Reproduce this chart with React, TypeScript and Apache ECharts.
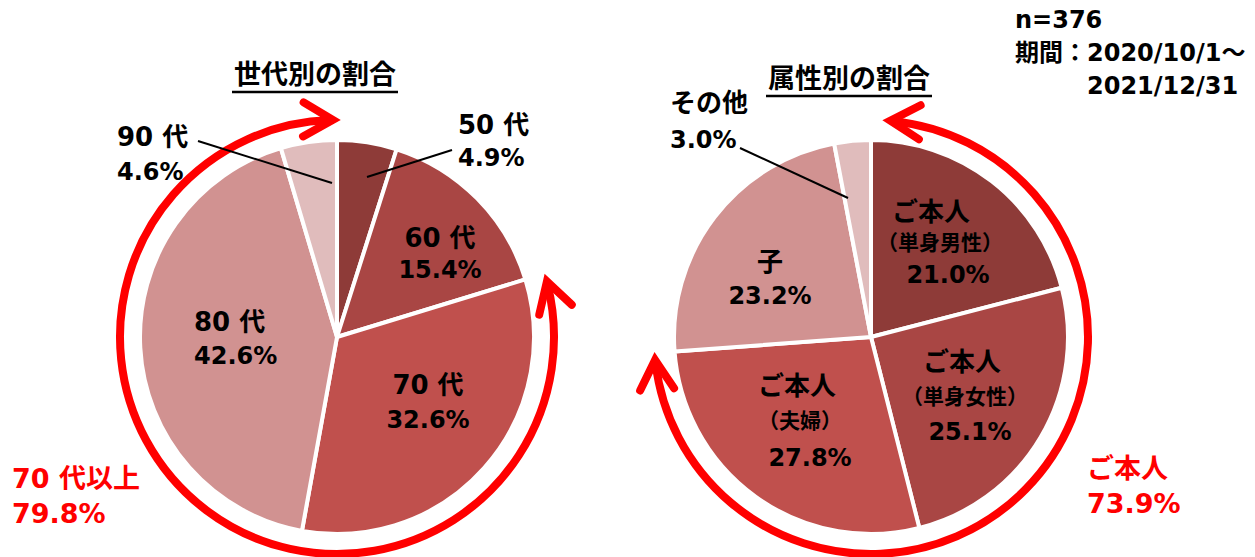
import React, { useEffect, useRef } from 'react';
import * as echarts from 'echarts';

// ---------- data ----------
const ageCategories = ['50 代', '60 代', '70 代', '80 代', '90 代'];
const ageValues = [4.9, 15.4, 32.6, 42.6, 4.6];
const attrNames = ['ご本人', 'ご本人', 'ご本人', '子', 'その他'];
const attrSubNames = ['（単身男性）', '（単身女性）', '（夫婦）', '', ''];
const attrValues = [21.0, 25.1, 27.8, 23.2, 3.0];
const titles = ['世代別の割合', '属性別の割合'];
const ageGroupLabel = '70 代以上';
const ageGroupIdx = [2, 3, 4];
const selfLabel = 'ご本人';
const selfIdx = [0, 1, 2];
const headerLines = ['n=376', '期間：2020/10/1～', '2021/12/31'];

// ---------- styles / layout ----------
const sliceColors = ['#8E3B38', '#A94644', '#C0504D', '#D19291', '#E0BCBC'];
const RED = '#FF0000';
const FONT = '"DejaVu Sans", "Noto Sans CJK JP", sans-serif';
const CY = 337;
const LCX = 337;
const RCX = 871;
const PIE_R = 197;
const ARC_R = 217;

const ageLabelLayout = [
  { x: 458, align: 'left', ys: [125, 158] },
  { x: 440, align: 'center', ys: [238, 270] },
  { x: 428, align: 'center', ys: [385, 420] },
  { x: 194, align: 'left', ys: [322, 356] },
  { x: 117, align: 'left', ys: [137, 172] },
];
const attrLabelLayout = [
  { xs: [931, 940, 948], ys: [212, 243, 275], align: 'center' },
  { xs: [962, 965, 970], ys: [362, 397, 432], align: 'center' },
  { xs: [797, 800, 810], ys: [386, 421, 458], align: 'center' },
  { xs: [770, 770], ys: [262, 296], align: 'center' },
  { xs: [670, 670], ys: [103, 140], align: 'left' },
];

const fmt = (v: number) => v.toFixed(1) + '%';

function txt(text: string, x: number, y: number, size = 24, align = 'center', color = '#000') {
  return {
    type: 'text',
    x,
    y,
    z: 100,
    silent: true,
    style: {
      text,
      fill: color,
      font: `bold ${size}px ${FONT}`,
      align,
      verticalAlign: 'middle',
      textAlign: align,
      textVerticalAlign: 'middle',
    },
  };
}

function line(x1: number, y1: number, x2: number, y2: number, w = 2, color = '#000') {
  return { type: 'line', z: 100, silent: true, shape: { x1, y1, x2, y2 }, style: { stroke: color, lineWidth: w } };
}

function arcArrow(cx: number, cy: number, r: number, thS: number, thE: number) {
  const rad = (d: number) => (d * Math.PI) / 180;
  const pt = (th: number) => [cx + r * Math.sin(rad(th)), cy - r * Math.cos(rad(th))];
  const cwT = (th: number) => [Math.cos(rad(th)), Math.sin(rad(th))];
  const rot = (v: number[], a: number) => [v[0] * Math.cos(a) - v[1] * Math.sin(a), v[0] * Math.sin(a) + v[1] * Math.cos(a)];
  const LW = 8;
  const alpha = rad(30);
  const L = 34;
  const tipBack = 4 / Math.sin(alpha);
  const head = (th: number, dir: number) => {
    const tip = pt(th);
    const t = cwT(th);
    const d = [t[0] * dir, t[1] * dir];
    const v = [tip[0] - d[0] * tipBack, tip[1] - d[1] * tipBack];
    const back = [-d[0], -d[1]];
    const b1 = rot(back, alpha);
    const b2 = rot(back, -alpha);
    return {
      type: 'polyline',
      z: 90,
      silent: true,
      shape: { points: [[v[0] + L * b1[0], v[1] + L * b1[1]], v, [v[0] + L * b2[0], v[1] + L * b2[1]]] },
      style: { stroke: RED, lineWidth: LW, fill: 'none', lineCap: 'round', lineJoin: 'miter' },
    };
  };
  const trim = ((tipBack + 3) / r) * (180 / Math.PI);
  return [
    {
      type: 'arc',
      z: 90,
      silent: true,
      shape: { cx, cy, r, startAngle: rad(thS + trim - 90), endAngle: rad(thE - trim - 90), clockwise: true },
      style: { stroke: RED, lineWidth: LW, fill: 'none', lineCap: 'butt' },
    },
    head(thS, -1),
    head(thE, 1),
  ];
}

function buildOption() {
  const sum = (arr: number[], idx: number[]) => idx.reduce((s, i) => s + arr[i], 0);
  const ageGroupTotal = sum(ageValues, ageGroupIdx);
  const selfTotal = sum(attrValues, selfIdx);
  const ageStartDeg = (sum(ageValues, [0, 1]) / 100) * 360;
  const selfEndDeg = (selfTotal / 100) * 360;

  const graphics: any[] = [];

  // titles with underline
  graphics.push(txt(titles[0], 315, 74, 27));
  graphics.push(line(232, 92, 398, 92, 2.5));
  graphics.push(txt(titles[1], 849, 78, 27));
  graphics.push(line(766, 96, 932, 96, 2.5));

  // header
  graphics.push(txt(headerLines[0], 1015, 20, 24, 'left'));
  graphics.push(txt(headerLines[1], 1015, 53, 24, 'left'));
  graphics.push(txt(headerLines[2], 1087, 86, 24, 'left'));

  // age labels
  ageCategories.forEach((c, i) => {
    const L = ageLabelLayout[i];
    graphics.push(txt(c, L.x, L.ys[0], 26, L.align));
    graphics.push(txt(fmt(ageValues[i]), L.x, L.ys[1], 24, L.align));
  });
  graphics.push(line(198, 141, 332, 183));
  graphics.push(line(367, 177, 452, 150));

  // attribute labels
  attrNames.forEach((n, i) => {
    const L = attrLabelLayout[i];
    const lines = attrSubNames[i] ? [n, attrSubNames[i], fmt(attrValues[i])] : [n, fmt(attrValues[i])];
    lines.forEach((t, j) => {
      const size = attrSubNames[i] && j === 1 ? 21 : j === lines.length - 1 ? 24 : 26;
      graphics.push(txt(t, L.xs[j], L.ys[j], size, L.align));
    });
  });
  graphics.push(line(740, 148, 848, 198));

  // group summaries
  graphics.push(txt(ageGroupLabel, 12, 478, 27, 'left', RED));
  graphics.push(txt(fmt(ageGroupTotal), 12, 513, 27, 'left', RED));
  graphics.push(txt(selfLabel, 1087, 468, 27, 'left', RED));
  graphics.push(txt(fmt(selfTotal), 1087, 503, 27, 'left', RED));

  // arrows
  graphics.push(...arcArrow(LCX, CY, ARC_R, ageStartDeg, 361));
  graphics.push(...arcArrow(RCX, CY, ARC_R, 3, selfEndDeg));

  const pieCommon = {
    type: 'pie',
    radius: PIE_R,
    startAngle: 90,
    clockwise: true,
    silent: true,
    z: 2,
    label: { show: false },
    labelLine: { show: false },
    itemStyle: { borderColor: '#FFFFFF', borderWidth: 4 },
    emphasis: { disabled: true },
  };

  return {
    animation: false,
    backgroundColor: '#FFFFFF',
    series: [
      {
        ...pieCommon,
        center: [LCX, CY],
        data: ageCategories.map((c, i) => ({ name: c, value: ageValues[i], itemStyle: { color: sliceColors[i] } })),
      },
      {
        ...pieCommon,
        center: [RCX, CY],
        data: attrNames.map((n, i) => ({ name: n + attrSubNames[i], value: attrValues[i], itemStyle: { color: sliceColors[i] } })),
      },
    ],
    graphic: graphics,
  };
}

export default function App() {
  const ref = useRef<HTMLDivElement>(null);
  useEffect(() => {
    if (!ref.current) return;
    const chart = echarts.init(ref.current, undefined, { renderer: 'svg' });
    chart.setOption(buildOption() as any);
    return () => chart.dispose();
  }, []);
  return <div ref={ref} style={{ position: 'absolute', left: 0, top: 0, width: 1255, height: 557, background: '#fff' }} />;
}
